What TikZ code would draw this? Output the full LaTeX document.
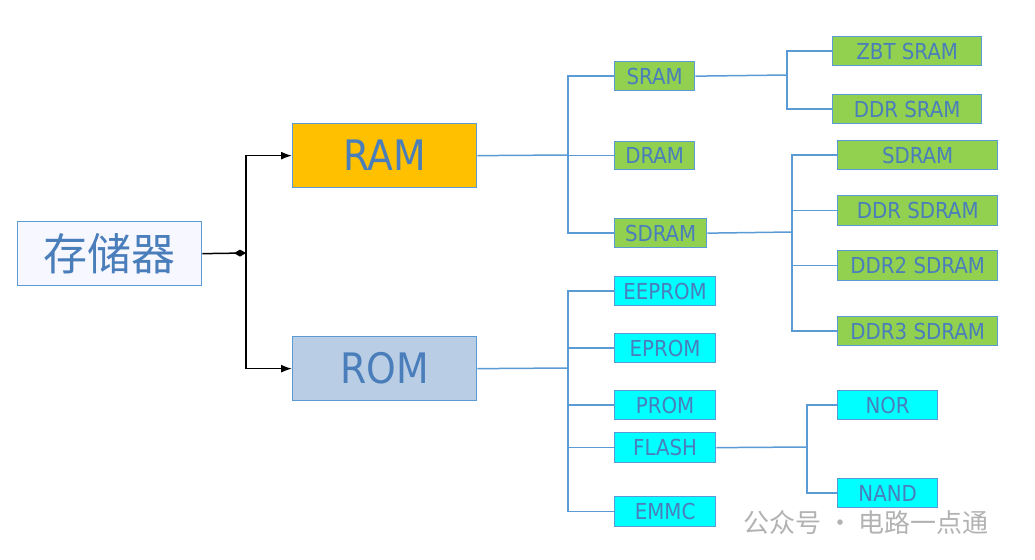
\documentclass[tikz,border=0pt]{standalone}
\usepackage{fontspec}
\setmainfont{Noto Sans CJK SC}
\newfontfamily\lat{DejaVu Sans Condensed}
\usetikzlibrary{arrows.meta}
\definecolor{tx}{HTML}{4A7EBB}
\definecolor{ln}{HTML}{5B9BD5}
\definecolor{grn}{HTML}{92D050}
\definecolor{cyn}{HTML}{00FFFF}
\tikzset{
 box/.style={draw=ln,line width=1.3pt,text=tx,inner sep=0pt,anchor=north west,font=\lat\fontsize{22}{22}\selectfont},
 g/.style={box,fill=grn},
 c/.style={box,fill=cyn},
 wire/.style={draw=ln,line width=1.5pt},
}
\newcommand{\bx}[7]{\node[#1,minimum width=#4pt,minimum height=#5pt] (#2) at (#3,#6) {#7};}
\begin{document}
\begin{tikzpicture}[x=1pt,y=-1pt]
\useasboundingbox (0,0) rectangle (1035,559);
\node[box,minimum width=184pt,minimum height=64pt,fill=blue!3,font=\fontsize{44}{46}\selectfont] (m) at (17,221) {存储器};
\node[box,minimum width=184pt,minimum height=64pt,fill={rgb,255:red,255;green,192;blue,0},font=\lat\fontsize{42}{44}\selectfont] (ram) at (292,123) {RAM};
\node[box,minimum width=184pt,minimum height=64pt,fill={rgb,255:red,185;green,205;blue,229},font=\lat\fontsize{42}{44}\selectfont] (rom) at (292,336) {ROM};
\coordinate (j) at (246,253);
\draw[line width=1.5pt,-{Diamond[length=12pt,width=7pt]}] (m.east) -- (j);
\draw[line width=1.5pt,-{Latex[length=11pt,width=8pt]}] (j) |- (ram.west);
\draw[line width=1.5pt,-{Latex[length=11pt,width=8pt]}] (j) |- (rom.west);
\bx{g}{sram}{614}{80}{29}{61}{SRAM}
\bx{g}{dram}{614}{80}{28}{141}{DRAM}
\bx{g}{sdram}{614}{92}{29}{218}{SDRAM}
\bx{g}{zbt}{832}{149}{29}{36}{ZBT SRAM}
\bx{g}{ddrs}{832}{149}{29}{94}{DDR SRAM}
\bx{g}{s1}{837}{160}{29}{140}{SDRAM}
\bx{g}{s2}{837}{160}{30}{195}{DDR SDRAM}
\bx{g}{s3}{837}{160}{30}{250}{DDR2 SDRAM}
\bx{g}{s4}{837}{160}{29}{316}{DDR3 SDRAM}
\bx{c}{eep}{614}{101}{29}{276}{EEPROM}
\bx{c}{ep}{614}{101}{29}{333}{EPROM}
\bx{c}{prom}{614}{101}{29}{390}{PROM}
\bx{c}{flash}{614}{101}{30}{432}{FLASH}
\bx{c}{emmc}{614}{101}{30}{496}{EMMC}
\bx{c}{nor}{837}{100}{29}{390}{NOR}
\bx{c}{nand}{837}{100}{29}{478}{NAND}
\coordinate (b1) at (568,155);
\draw[wire] (ram.east) -- (b1);
\foreach \t in {sram,dram,sdram} \draw[wire] (b1) |- (\t.west);
\coordinate (b2) at (787,75);
\draw[wire] (sram.east) -- (b2);
\foreach \t in {zbt,ddrs} \draw[wire] (b2) |- (\t.west);
\coordinate (b3) at (792,232);
\draw[wire] (sdram.east) -- (b3);
\foreach \t in {s1,s2,s3,s4} \draw[wire] (b3) |- (\t.west);
\coordinate (b4) at (568,368);
\draw[wire] (rom.east) -- (b4);
\foreach \t in {eep,ep,prom,flash,emmc} \draw[wire] (b4) |- (\t.west);
\coordinate (b5) at (807,447);
\draw[wire] (flash.east) -- (b5);
\foreach \t in {nor,nand} \draw[wire] (b5) |- (\t.west);
\node[text=black!30,anchor=west,font=\fontsize{26}{28}\selectfont,inner sep=0pt] (wm) at (743,523) {公众号 · 电路一点通};
\end{tikzpicture}
\end{document}
